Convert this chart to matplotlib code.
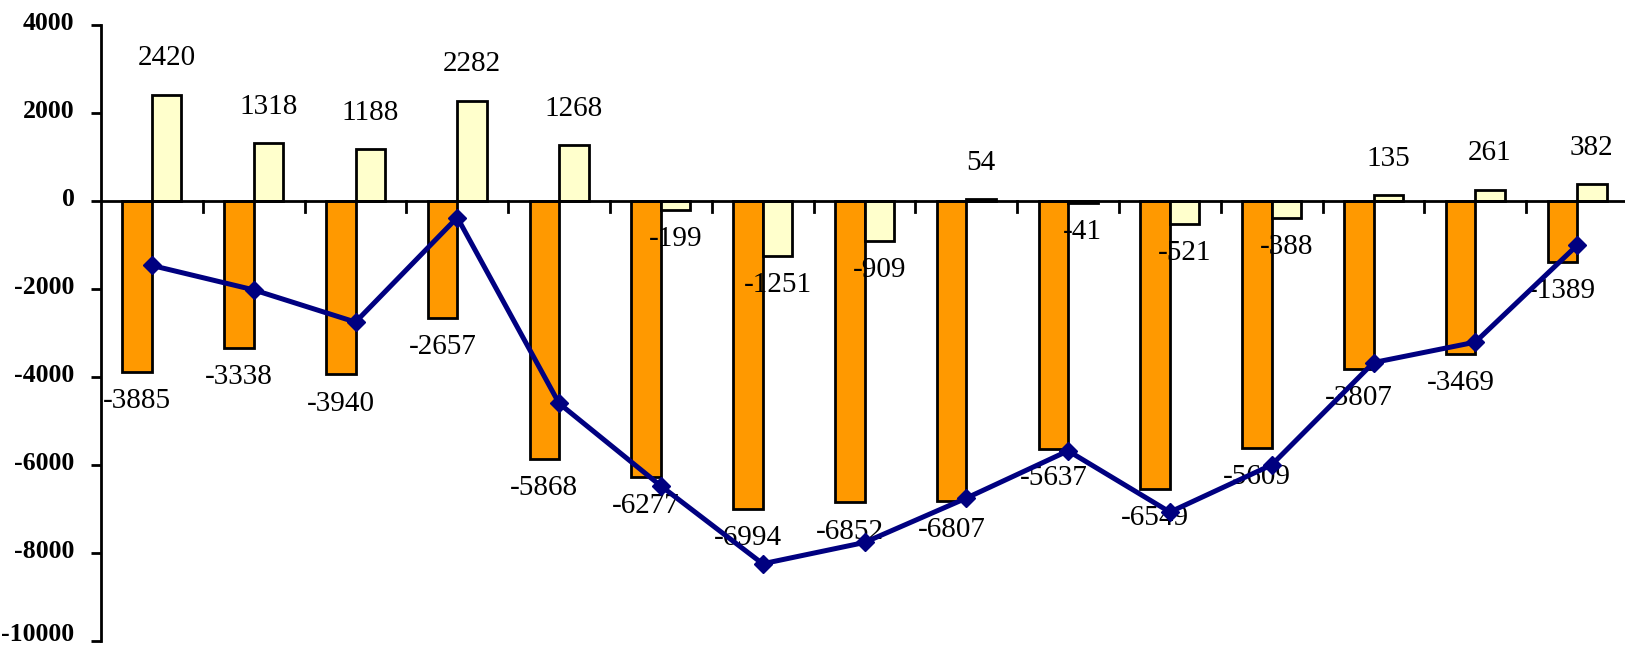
import matplotlib
matplotlib.use("Agg")
import matplotlib.pyplot as plt
import matplotlib.transforms as mtransforms
import numpy as np

orange_vals = [-3885, -3338, -3940, -2657, -5868, -6277, -6994, -6852, -6807,
               -5637, -6549, -5609, -3807, -3469, -1389]
yellow_vals = [2420, 1318, 1188, 2282, 1268, -199, -1251, -909, 54,
               -41, -521, -388, 135, 261, 382]
total_vals = [o + y for o, y in zip(orange_vals, yellow_vals)]
y_ticks = [4000, 2000, 0, -2000, -4000, -6000, -8000, -10000]

W, H = 1625, 647
fig = plt.figure(figsize=(W / 100, H / 100), dpi=100)
ax = fig.add_axes([101 / W, (H - 641) / H, 1527 / W, (641 - 25) / H])

x = np.arange(len(orange_vals))
bw = 0.29
ax.bar(x - bw / 2, orange_vals, width=bw, color="#FF9900", edgecolor="black",
       linewidth=2.0, zorder=2)
ax.bar(x + bw / 2, yellow_vals, width=bw, color="#FFFFCC", edgecolor="black",
       linewidth=2.0, zorder=2)
ax.plot(x, total_vals, color="#000080", linewidth=3.6, marker="D",
        markersize=9, zorder=5)

ax.axhline(0, color="black", linewidth=2.0, zorder=3)
for b in np.arange(0.5, len(x) - 0.5, 1.0):
    ax.plot([b, b], [0, -260], color="black", linewidth=2.0, zorder=3,
            clip_on=False)

lab_font = dict(family="Liberation Serif", fontsize=21)
for xi, v in zip(x, orange_vals):
    off = 22 if v >= 0 else -21
    ax.annotate(str(v), (xi - bw / 2, v), xytext=(0, off), textcoords="offset points",
                ha="center", va="center", zorder=4, **lab_font)
for xi, v in zip(x, yellow_vals):
    off = 26 if v >= 0 else -21
    ax.annotate(str(v), (xi + bw / 2, v), xytext=(0, off), textcoords="offset points",
                ha="center", va="center", zorder=4, **lab_font)

ax.set_xlim(-0.5, len(x) - 0.5)
ax.set_ylim(-10000, 4000)
ax.set_yticks(y_ticks)
ax.set_yticklabels([str(t) for t in y_ticks], fontfamily="Liberation Serif",
                   fontweight="bold", fontsize=18.5)
ax.tick_params(axis="y", direction="out", length=7, width=2.0, pad=12)
for lbl in ax.get_yticklabels():
    dy = 9 if lbl.get_text() == "-10000" else 4
    shift = mtransforms.ScaledTranslation(0, dy / 100, fig.dpi_scale_trans)
    lbl.set_transform(lbl.get_transform() + shift)
ax.set_xticks([])
for s in ["top", "right", "bottom"]:
    ax.spines[s].set_visible(False)
ax.spines["left"].set_linewidth(2.0)

fig.savefig("out.png", dpi=100)
